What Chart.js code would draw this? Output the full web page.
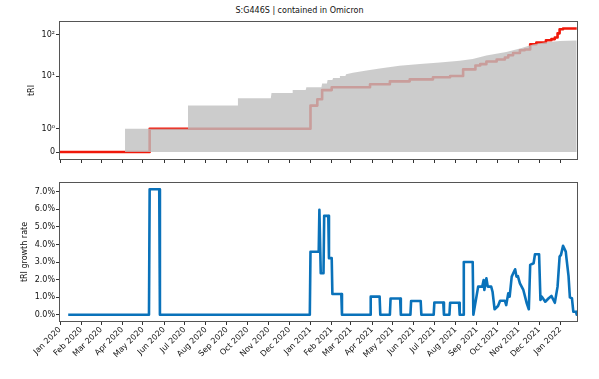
<!DOCTYPE html>
<html>
<head>
<meta charset="utf-8">
<script src="https://cdn.jsdelivr.net/npm/chart.js@4/dist/chart.umd.min.js"></script>
<style>
html,body{margin:0;padding:0;background:#fff;}
#wrap{position:relative;width:599px;height:379px;overflow:hidden;}
#title{position:absolute;left:0;top:5px;width:599px;text-align:center;font-family:'DejaVu Sans';font-size:8px;line-height:11px;color:#111;}
canvas{position:absolute;left:0;}
</style>
</head>
<body>
<div id="wrap">
<div id="title">S:G446S | contained in Omicron</div>
<canvas id="c1" width="599" height="175" style="top:0px"></canvas>
<canvas id="c2" width="599" height="204" style="top:175px"></canvas>
</div>
<script>
// ---------------- data ----------------
const X_START = '2020-01-01';
const X_END = '2022-01-25';

const TICK_DATES = ['2020-01-01','2020-02-01','2020-03-01','2020-04-01','2020-05-01','2020-06-01','2020-07-01','2020-08-01','2020-09-01','2020-10-01','2020-11-01','2020-12-01',
  '2021-01-01','2021-02-01','2021-03-01','2021-04-01','2021-05-01','2021-06-01','2021-07-01','2021-08-01','2021-09-01','2021-10-01','2021-11-01','2021-12-01','2022-01-01'];
const TICK_LABELS = ['Jan 2020','Feb 2020','Mar 2020','Apr 2020','May 2020','Jun 2020','Jul 2020','Aug 2020','Sep 2020','Oct 2020','Nov 2020','Dec 2020',
  'Jan 2021','Feb 2021','Mar 2021','Apr 2021','May 2021','Jun 2021','Jul 2021','Aug 2021','Sep 2021','Oct 2021','Nov 2021','Dec 2021','Jan 2022'];

const TRI_TICKS = [0, 1, 10, 100];
const TRI_TICK_LABELS = ['0', '10⁰', '10¹', '10²'];
const RATE_TICKS = [0, 1, 2, 3, 4, 5, 6, 7];

// tRI of the variant (red line)
const RED_DATES = ['2020-01-01','2020-05-11','2021-01-01','2021-01-11','2021-01-18','2021-02-01','2021-03-29','2021-04-27','2021-05-26','2021-06-29','2021-07-24',
  '2021-08-12','2021-08-30','2021-09-06','2021-09-15','2021-09-30','2021-10-12','2021-10-17','2021-10-24','2021-11-03','2021-11-10','2021-11-18','2021-11-27',
  '2021-12-11','2021-12-19','2021-12-24','2021-12-28','2021-12-31','2022-01-05','2022-01-25'];
const RED_VALUES = [0,1,2,2.83,4.7,5.5,6.5,7.6,8.5,9.5,10.2,
  14.7,18.2,19.6,22.7,25.4,28.3,32.1,36.4,42.3,44,58.7,64.4,
  73,78,85,107,134,140,140];

// tRI envelope (grey area)
const GRAY_DATES = ['2020-04-05','2020-07-05','2020-07-06','2020-09-16','2020-09-17','2020-11-04','2020-11-05','2020-12-05','2020-12-06','2020-12-25','2020-12-26',
  '2021-01-17','2021-01-18','2021-01-25','2021-01-26','2021-02-02','2021-02-03','2021-02-12','2021-02-13','2021-02-21','2021-02-22','2021-03-04','2021-03-24',
  '2021-04-12','2021-05-11','2021-06-10','2021-07-09','2021-08-07','2021-08-26','2021-09-15','2021-10-14','2021-11-03','2021-11-22','2021-12-11','2021-12-31','2022-01-25'];
const GRAY_VALUES = [1,1,2,2,3,3,4,4,4.7,4.7,5.5,
  5.5,6.8,6.8,8.2,8.2,9.2,9.2,10.2,10.2,11.3,12.2,13.9,
  15.5,17.9,19.9,21.5,23.5,26.2,31.6,38.5,46.4,57.7,65.5,70,72];

// tRI growth rate (%)
const RATE_DATES = ['2020-01-13','2020-05-10','2020-05-11','2020-05-25','2020-05-26','2020-12-31','2021-01-01','2021-01-13','2021-01-14','2021-01-16','2021-01-20',
  '2021-01-21','2021-01-27','2021-01-28','2021-02-01','2021-02-02','2021-02-15','2021-02-16','2021-03-29','2021-03-30','2021-04-12','2021-04-13',
  '2021-04-27','2021-04-28','2021-05-12','2021-05-13','2021-05-27','2021-05-28','2021-06-11','2021-06-12','2021-06-30','2021-07-01','2021-07-14','2021-07-15',
  '2021-07-23','2021-07-24','2021-08-06','2021-08-07','2021-08-12','2021-08-13','2021-08-26','2021-08-27','2021-08-29','2021-09-03','2021-09-09','2021-09-11',
  '2021-09-12','2021-09-15','2021-09-17','2021-09-22','2021-09-24','2021-09-27','2021-10-02','2021-10-05','2021-10-12','2021-10-14','2021-10-17','2021-10-19',
  '2021-10-22','2021-10-27','2021-10-29','2021-10-31','2021-11-03','2021-11-08','2021-11-13','2021-11-16','2021-11-18','2021-11-23','2021-11-25','2021-12-01',
  '2021-12-03','2021-12-05','2021-12-10','2021-12-15','2021-12-19','2021-12-24','2021-12-28','2021-12-31','2022-01-02','2022-01-05','2022-01-09','2022-01-10',
  '2022-01-13','2022-01-15','2022-01-18','2022-01-20','2022-01-24','2022-01-25'];
const RATE_VALUES = [0,0,7.14,7.14,0,0,3.59,3.59,5.97,2.36,2.36,
  5.63,5.63,3.22,3.22,1.18,1.18,0,0,1.03,1.03,0,
  0,0.92,0.92,0,0,0.78,0.78,0,0,0.70,0.70,0,
  0,0.68,0.68,0,0,3.0,3.0,0,0.46,1.6,1.6,1.98,
  1.41,2.08,1.6,1.6,1.31,0.31,0.5,0.8,0.8,0.55,1.22,1.03,
  2.17,2.59,2.17,2.2,1.79,1.41,0.65,0.31,2.84,2.93,3.44,3.44,
  0.84,1.03,0.74,0.94,1.07,0.68,1.6,3.31,3.41,3.92,3.59,3.22,
  2.21,0.99,0.94,0.17,0.17,0.0];

// ---------------- helpers ----------------
function day(s){ const p = s.split('-').map(Number); return (Date.UTC(p[0], p[1]-1, p[2]) - Date.UTC(2020,0,1)) / 864e5; }
function pts(dates, vals){ return dates.map((d,i)=>({x: day(d), y: vals[i]})); }

// symmetric log transform (linthresh 2, linscale 1, base 10)
const LT = 2, LADJ = 1/(1-1/10);
function symT(v){ const a=Math.abs(v); return a<=LT ? v*LADJ : Math.sign(v)*LT*(LADJ+Math.log10(a/LT)); }
function symInv(t){ const a=Math.abs(t); return a<=LT*LADJ ? t/LADJ : Math.sign(t)*LT*Math.pow(10, a/LT-LADJ); }

class SymlogScale extends Chart.LinearScale {
  buildTicks(){ return TRI_TICKS.map(v=>({value:v})); }
  configure(){
    super.configure();
    this._tMin = symT(this.min);
    this._tRange = symT(this.max) - this._tMin;
  }
  getPixelForValue(v){ return this.getPixelForDecimal((symT(v) - this._tMin) / this._tRange); }
  getValueForPixel(p){ return symInv(this._tMin + this.getDecimalForPixel(p) * this._tRange); }
}
SymlogScale.id = 'symlog';
SymlogScale.defaults = {};
Chart.register(SymlogScale);

const FONT = {family: 'DejaVu Sans', size: 8};
const TXT = '#111';
const TICKC = '#333';

const framePlugin = {
  id: 'frame',
  afterDatasetsDraw(chart){
    const {ctx, chartArea: a} = chart;
    ctx.save();
    ctx.strokeStyle = '#555';
    ctx.lineWidth = 1;
    const l = Math.round(a.left)-0.5, t = Math.round(a.top)-0.5;
    const r = Math.round(a.right)+0.5, b = Math.round(a.bottom)+0.5;
    ctx.strokeRect(l, t, r-l, b-t);
    ctx.restore();
  }
};

function xAxis(showLabels){
  return {
    type: 'linear',
    min: day(X_START), max: day(X_END) + 0.4,
    afterBuildTicks: s => { s.ticks = TICK_DATES.map(d=>({value: day(d)})); },
    ticks: { autoSkip:false, maxRotation:45, minRotation:45, padding:0, font:FONT, color:TXT,
      callback: (v,i) => showLabels ? TICK_LABELS[i] : '' },
    grid: { display:true, drawOnChartArea:false, drawTicks:true, tickLength:4, color:TICKC, tickColor:TICKC, tickWidth:1 },
    border: { display:false },
    afterFit: s => { s.height = showLabels ? 50 : 8; }
  };
}

// ---------------- top chart ----------------
new Chart(document.getElementById('c1'), {
  type: 'line',
  data: {
    datasets: [
      { label:'tRI', data: pts(RED_DATES, RED_VALUES), borderColor:'rgb(240,24,10)', borderWidth:2.6,
        stepped:'before', pointRadius:0, fill:false, order:2, borderJoinStyle:'round' },
      { label:'envelope', data: pts(GRAY_DATES, GRAY_VALUES), borderWidth:0, borderColor:'rgba(0,0,0,0)',
        backgroundColor:'rgba(191,191,191,0.8)', pointRadius:0, fill:'origin', order:1 }
    ]
  },
  options: {
    responsive:false, animation:false, devicePixelRatio:1,
    layout: { padding: {left:0, right:22, top:22, bottom:8} },
    plugins: { legend:{display:false}, title:{display:false}, tooltip:{enabled:false} },
    scales: {
      x: xAxis(false),
      y: {
        type:'symlog', min:-0.3, max:200,
        afterBuildTicks: s => { s.ticks = TRI_TICKS.map(v=>({value:v})); },
        ticks: { autoSkip:false, padding:1, font:FONT, color:TXT, callback:(v,i)=>TRI_TICK_LABELS[i] },
        grid: { display:true, drawOnChartArea:false, drawTicks:true, tickLength:4, color:TICKC, tickColor:TICKC },
        border: { display:false },
        title: { display:true, text:'tRI', font:FONT, color:TXT, padding:{top:27, bottom:0} },
        afterFit: s => { s.width = 60; }
      }
    }
  },
  plugins: [framePlugin]
});

// ---------------- bottom chart ----------------
new Chart(document.getElementById('c2'), {
  type: 'line',
  data: {
    datasets: [
      { label:'tRI growth rate', data: pts(RATE_DATES, RATE_VALUES), borderColor:'rgb(10,114,186)', borderWidth:2.6,
        pointRadius:0, fill:false, tension:0, borderJoinStyle:'round' }
    ]
  },
  options: {
    responsive:false, animation:false, devicePixelRatio:1,
    layout: { padding: {left:0, right:22, top:8, bottom:8} },
    plugins: { legend:{display:false}, title:{display:false}, tooltip:{enabled:false} },
    scales: {
      x: xAxis(true),
      y: {
        type:'linear', min:-0.357, max:7.5,
        afterBuildTicks: s => { s.ticks = RATE_TICKS.map(v=>({value:v})); },
        ticks: { autoSkip:false, padding:1, font:FONT, color:TXT, callback:(v)=> v.toFixed(1)+'%' },
        grid: { display:true, drawOnChartArea:false, drawTicks:true, tickLength:4, color:TICKC, tickColor:TICKC },
        border: { display:false },
        title: { display:true, text:'tRI growth rate', font:FONT, color:TXT, padding:{top:20, bottom:0} },
        afterFit: s => { s.width = 60; }
      }
    }
  },
  plugins: [framePlugin]
});
</script>
</body>
</html>
